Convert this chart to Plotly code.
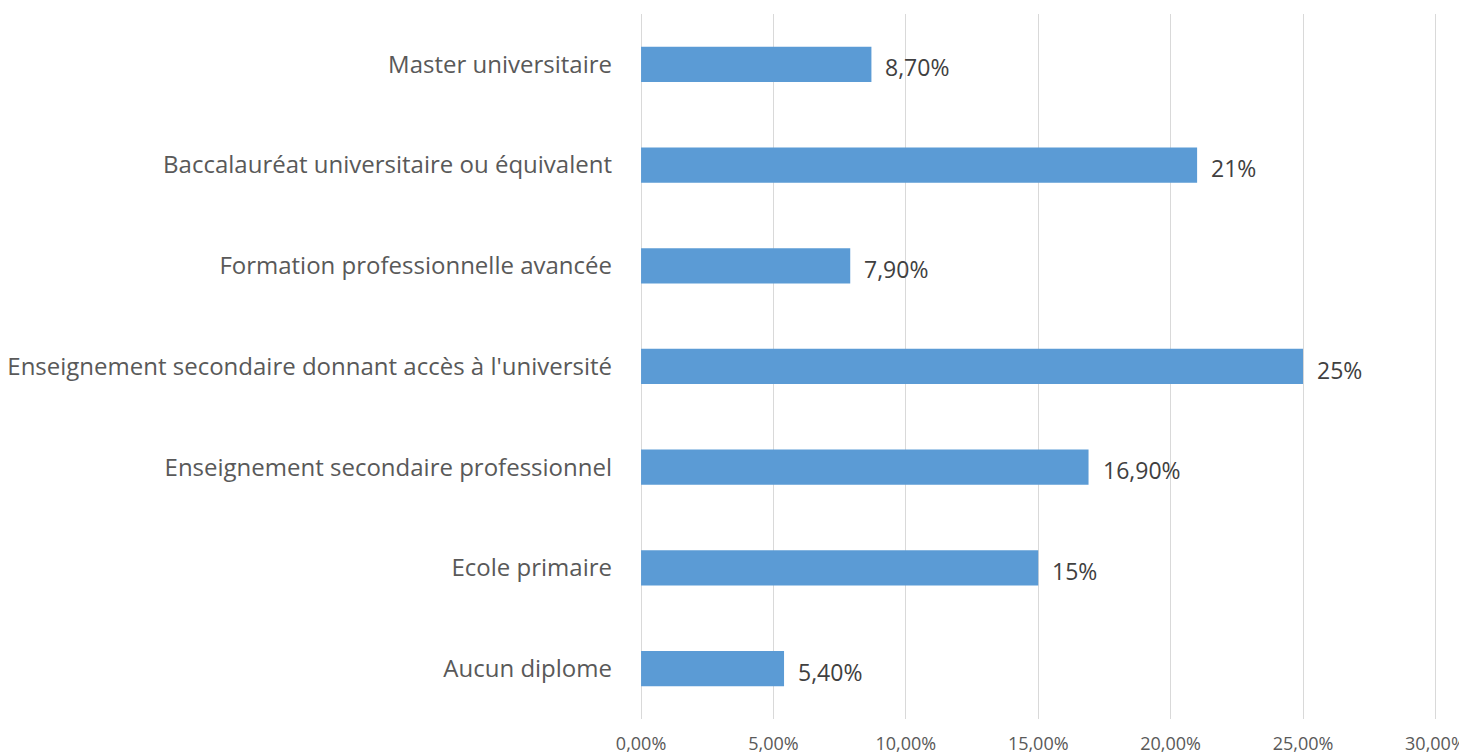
import plotly.graph_objects as go

# Data (bottom to top as displayed)
categories = [
    "Aucun diplome",
    "Ecole primaire",
    "Enseignement secondaire professionnel",
    "Enseignement secondaire donnant accès à l'université",
    "Formation professionnelle avancée",
    "Baccalauréat universitaire ou équivalent",
    "Master universitaire",
]
shares = [0.054, 0.15, 0.169, 0.25, 0.079, 0.21, 0.087]
value_labels = ["5,40%", "15%", "16,90%", "25%", "7,90%", "21%", "8,70%"]
x_ticks = [0, 0.05, 0.10, 0.15, 0.20, 0.25, 0.30]

BAR_COLOR = "#5B9BD5"
TEXT_COLOR = "#404040"
CAT_COLOR = "#595959"
FONT = "Open Sans, Liberation Sans, sans-serif"

fig = go.Figure()

fig.add_trace(
    go.Bar(
        x=shares,
        y=categories,
        orientation="h",
        marker=dict(color=BAR_COLOR, line=dict(width=0)),
        width=0.35,
        hoverinfo="skip",
    )
)

# value labels right of each bar
for cat, val, lab in zip(categories, shares, value_labels):
    fig.add_annotation(
        x=val,
        y=cat,
        text=lab,
        showarrow=False,
        xanchor="left",
        xshift=12,
        yshift=-3,
        font=dict(size=23, color=TEXT_COLOR, family=FONT),
    )

# page body has an 8px margin, so the figure is sized to fit the window
fig.update_layout(
    width=1459,
    height=747,
    margin=dict(l=632, r=30, t=6, b=36, autoexpand=False),
    paper_bgcolor="white",
    plot_bgcolor="white",
    separators=", ",
    showlegend=False,
    font=dict(family=FONT, color=TEXT_COLOR),
    xaxis=dict(
        # a hair past both ends so the 0% and 30% gridlines are kept
        range=[-0.0004, 0.3006],
        tickvals=x_ticks,
        tickformat=".2%",
        showgrid=True,
        gridcolor="#D9D9D9",
        gridwidth=1,
        zeroline=False,
        showline=False,
        ticks="",
        automargin=False,
        ticklabeloverflow="allow",
        ticklabelstandoff=12,
        tickfont=dict(size=18, color=CAT_COLOR),
    ),
    yaxis=dict(
        categoryorder="array",
        categoryarray=categories,
        showgrid=False,
        zeroline=False,
        showline=False,
        ticks="",
        automargin=False,
        ticklabelstandoff=27,
        tickfont=dict(size=24, color=CAT_COLOR),
    ),
)

fig.write_html("out.html")
